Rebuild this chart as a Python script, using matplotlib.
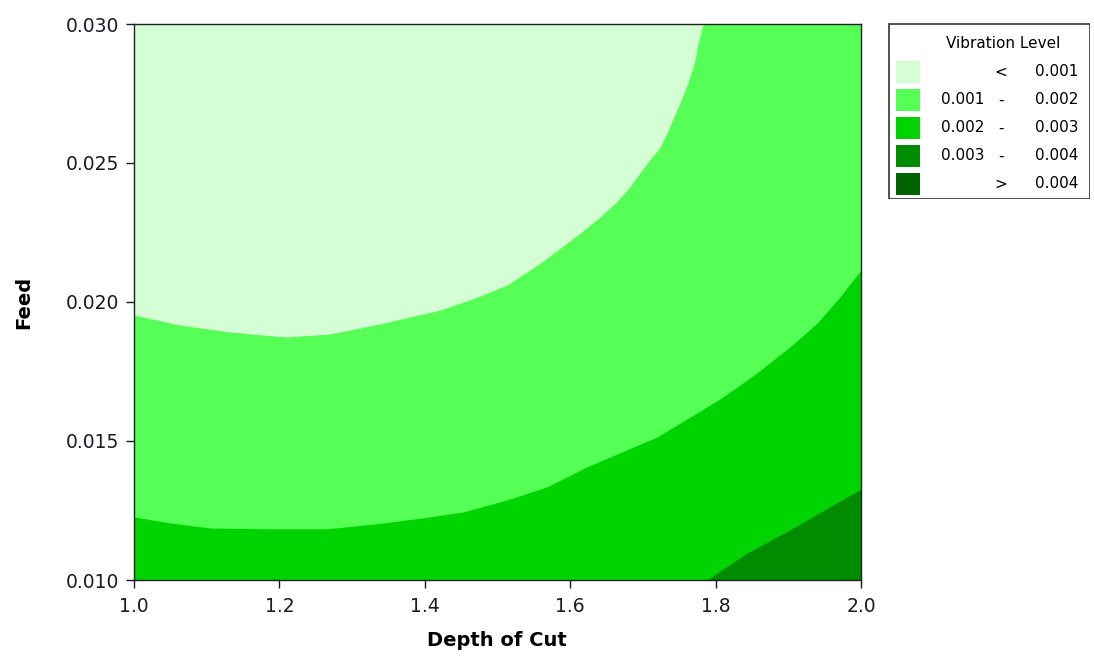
import matplotlib
matplotlib.use("Agg")
import matplotlib.pyplot as plt
from matplotlib.patches import Rectangle

# Contour boundaries (depth of cut, feed)
depth_001 = [1.000, 1.063, 1.132, 1.208, 1.270, 1.338, 1.421, 1.466, 1.513, 1.559,
             1.614, 1.641, 1.664, 1.682, 1.706, 1.724, 1.737, 1.751, 1.762, 1.772,
             1.776, 1.783]
feed_001 = [0.01953, 0.01917, 0.01892, 0.01874, 0.01885, 0.01921, 0.01971, 0.02011, 0.02061, 0.02140,
            0.02248, 0.02306, 0.02360, 0.02414, 0.02500, 0.02558, 0.02630, 0.02716, 0.02788, 0.02871,
            0.02932, 0.03000]

depth_002 = [1.000, 1.050, 1.105, 1.187, 1.266, 1.343, 1.407, 1.453, 1.513, 1.568,
             1.623, 1.719, 1.765, 1.810, 1.857, 1.902, 1.940, 1.971, 2.000]
feed_002 = [0.01227, 0.01205, 0.01187, 0.01184, 0.01184, 0.01205, 0.01227, 0.01245, 0.01288, 0.01335,
            0.01407, 0.01514, 0.01586, 0.01658, 0.01745, 0.01838, 0.01925, 0.02018, 0.02115]

depth_003 = [1.788, 1.843, 1.902, 1.957, 2.000]
feed_003 = [0.01000, 0.01097, 0.01180, 0.01263, 0.01327]

depth_range = [1.0, 2.0]
feed_range = [0.010, 0.030]

level_labels = [("", "<", "0.001"),
                ("0.001", "-", "0.002"),
                ("0.002", "-", "0.003"),
                ("0.003", "-", "0.004"),
                ("", ">", "0.004")]
level_colors = ["#D4FED4", "#55FF55", "#00D400", "#008C00", "#006400"]

W, H = 1094, 656
fig = plt.figure(figsize=(W / 100, H / 100), dpi=100)
ax = fig.add_axes([134 / W, 1 - 580 / H, 727 / W, 556 / H])

# band 0.001-0.002 fills everything first, others layered on top
ax.fill_between(depth_range, feed_range[0], feed_range[1], color=level_colors[1], lw=0)
ax.fill_between(depth_002, feed_range[0], feed_002, color=level_colors[2], lw=0)
ax.fill_between(depth_003, feed_range[0], feed_003, color=level_colors[3], lw=0)
ax.fill_between(depth_001, feed_001, feed_range[1], color=level_colors[0], lw=0)

ax.set_xlim(depth_range)
ax.set_ylim(feed_range)
ax.set_xticks([1.0, 1.2, 1.4, 1.6, 1.8, 2.0])
ax.set_yticks([0.010, 0.015, 0.020, 0.025, 0.030])
ax.xaxis.set_major_formatter(matplotlib.ticker.FormatStrFormatter("%.1f"))
ax.yaxis.set_major_formatter(matplotlib.ticker.FormatStrFormatter("%.3f"))
ax.tick_params(direction="out", length=6, width=1, labelsize=13.5, colors="#1a1a2a")
ax.tick_params(axis="x", pad=6)
ax.tick_params(axis="y", pad=5)
for s in ax.spines.values():
    s.set_linewidth(1.0)
    s.set_color("#222222")

fig.text(497 / W, 1 - 640 / H, "Depth of Cut", ha="center", va="center",
         fontsize=14, fontweight="bold")
fig.text(24 / W, 1 - 302 / H, "Feed", ha="center", va="center", rotation=90,
         fontsize=14, fontweight="bold")

# legend box drawn in pixel-like coordinates
lg = fig.add_axes([888 / W, 1 - 199 / H, 202 / W, 176 / H])
lg.set_xlim(0, 202)
lg.set_ylim(176, 0)
lg.axis("off")
lg.add_patch(Rectangle((0.5, 0.5), 201, 175, fill=False, ec="#333333", lw=1.2))
lg.text(115, 21, "Vibration Level", ha="center", va="center", fontsize=11)
for i, ((lo, sep, hi), c) in enumerate(zip(level_labels, level_colors)):
    yc = 49 + 28 * i
    lg.add_patch(Rectangle((8, yc - 11), 24, 22, color=c, lw=0))
    if lo:
        lg.text(96, yc, lo, ha="right", va="center", fontsize=11)
    lg.text(113, yc, sep, ha="center", va="center", fontsize=11)
    lg.text(190, yc, hi, ha="right", va="center", fontsize=11)

fig.savefig("out.png", dpi=100)
